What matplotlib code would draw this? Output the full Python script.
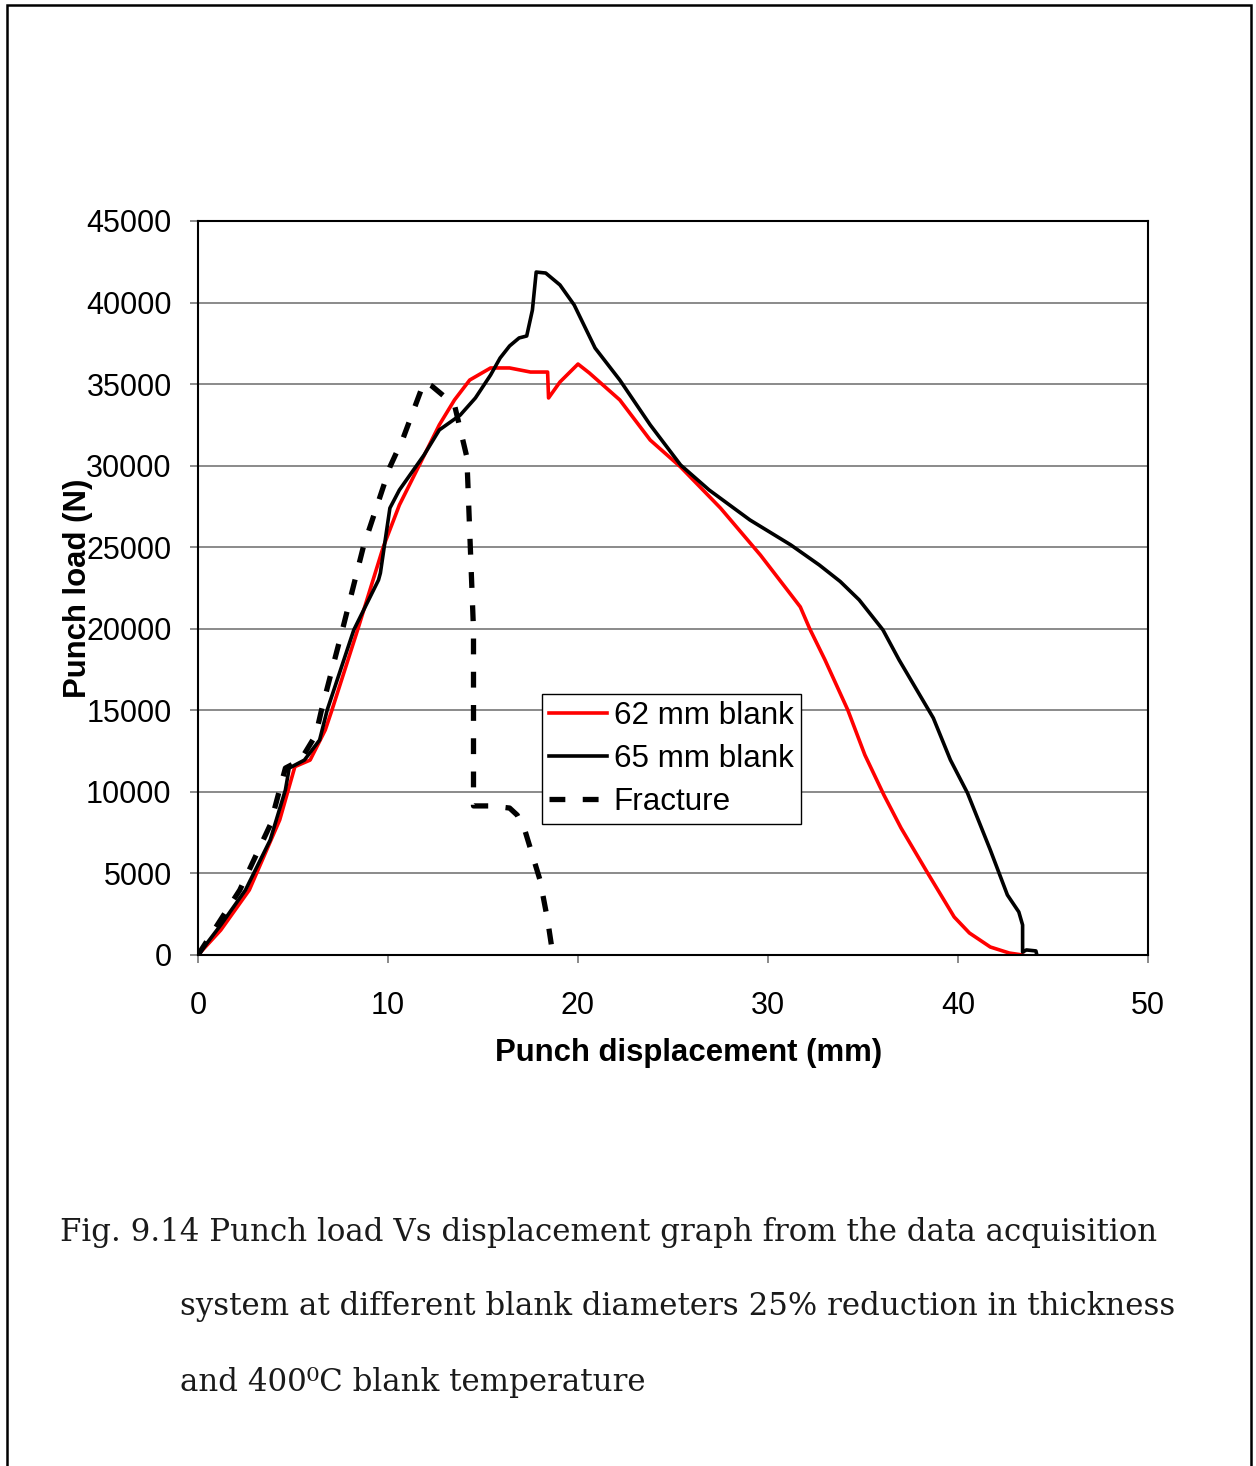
import matplotlib.pyplot as plt
from matplotlib.patches import Rectangle

# Punch load vs displacement
x_62 = [0, 1.2, 2.7, 4.3, 5.1, 5.9, 6.7, 7.05, 8.4, 9.75, 10.6, 11.6, 12.7, 13.5,
        14.3, 15.4, 16.4, 17.5, 18.4, 18.45, 19.05, 20.0, 20.6, 22.2, 23.8, 25.4,
        27.5, 29.6, 31.2, 31.7, 32.2, 33.0, 34.2, 35.1, 36.1, 37.0, 38.4, 39.8,
        40.6, 41.7, 42.7, 43.4]
y_62 = [0, 1530, 3985, 8280, 11550, 11950, 13800, 15020, 19930, 25010, 27590,
        29920, 32500, 34030, 35250, 35990, 35990, 35740, 35740, 34150, 35130,
        36230, 35680, 34030, 31570, 29920, 27400, 24520, 22100, 21340, 19990,
        18090, 15020, 12260, 9810, 7790, 5030, 2330, 1350, 490, 120, 0]

x_65 = [0, 1.2, 2.5, 3.8, 4.6, 4.8, 5.6, 6.4, 6.8, 8.2, 9.5, 9.6, 10.1, 10.6,
        11.9, 12.7, 13.8, 14.6, 15.4, 15.9, 16.4, 16.9, 17.3, 17.6, 17.8, 18.3,
        19.05, 19.8, 20.9, 22.2, 23.8, 25.4, 26.9, 29.05, 31.2, 32.7, 33.8, 34.8,
        36.05, 36.9, 38.7, 39.6, 40.5, 41.7, 42.6, 43.2, 43.4, 43.4, 43.4, 43.6,
        44.1, 44.15]
y_65 = [0, 1840, 3985, 7050, 10120, 11460, 11950, 13180, 15020, 19930, 22990,
        23420, 27400, 28510, 30660, 32190, 33100, 34150, 35560, 36600, 37340,
        37830, 37950, 39540, 41870, 41810, 41080, 39850, 37210, 35250, 32500,
        30040, 28510, 26670, 25140, 23910, 22900, 21770, 19930, 18090, 14530,
        11960, 9930, 6440, 3680, 2640, 1840, 610, 180, 310, 250, 0]

x_fr = [0, 2.2, 3.8, 4.6, 5.4, 6.2, 6.5, 7.6, 8.7, 10.1, 10.8, 11.9, 12.3, 13.5,
        14.15, 14.5, 14.5, 14.5, 15.4, 16.4, 16.8, 17.2, 18.0, 18.4, 18.6, 18.9,
        19.2]
y_fr = [0, 3985, 7970, 11460, 11950, 13490, 15020, 19930, 25010, 29920, 31700,
        35130, 34890, 33720, 30530, 19930, 9500, 9140, 9140, 9010, 8580, 7660,
        4600, 2150, 610, 180, 0]

series_labels = ["62 mm blank", "65 mm blank", "Fracture"]
caption_lines = [
    "Fig. 9.14 Punch load Vs displacement graph from the data acquisition",
    "system at different blank diameters 25% reduction in thickness",
    "and 400\u2070C blank temperature",
]

plt.rcParams["font.family"] = ["Liberation Sans", "DejaVu Sans"]

fig = plt.figure(figsize=(12.56, 14.66), dpi=100)
ax = fig.add_axes([198 / 1256, 1 - 955 / 1466, 950 / 1256, 734 / 1466])

# Gridlines
ax.set_axisbelow(True)
ax.grid(axis="y", color="#777777", linewidth=1.2)

ax.plot(x_62, y_62, color="#ff0000", linewidth=2.6, label=series_labels[0])
ax.plot(x_65, y_65, color="black", linewidth=2.6, label=series_labels[1])
ax.plot(x_fr, y_fr, color="black", linewidth=3.8, dashes=(3, 3.3),
        label=series_labels[2])

ax.set_xlim(0, 50)
ax.set_ylim(0, 45000)
ax.set_xticks(range(0, 51, 10))
ax.set_yticks(range(0, 45001, 5000))
ax.tick_params(axis="both", labelsize=22, length=6, width=1.2, color="#777777")
ax.tick_params(axis="x", pad=20)
ax.tick_params(axis="y", pad=13)
for spine in ax.spines.values():
    spine.set_linewidth(1.5)
    spine.set_color("black")

ax.set_xlabel("Punch displacement (mm)", fontsize=22.4, fontweight="bold")
ax.xaxis.set_label_coords(0.516, -83 / 734)
ax.set_ylabel("Punch load (N)", fontsize=22.4, fontweight="bold")
ax.yaxis.set_label_coords(-105 / 950, 0.5)

leg = ax.legend(loc="upper left", bbox_to_anchor=(0.362, 0.3556), fontsize=22.6,
                frameon=True, fancybox=False, framealpha=1, edgecolor="black",
                handlelength=1.85, handletextpad=0.22, labelspacing=0.42,
                borderpad=0.22, borderaxespad=0)
leg.get_frame().set_linewidth(1.0)

# Caption below the chart
for i, (x0, yc) in enumerate([(60, 1232), (180, 1307), (180, 1382)]):
    fig.text(x0 / 1256, 1 - yc / 1466, caption_lines[i], fontsize=22.2,
             family="DejaVu Serif", va="center", ha="left", color="#1a1a1a")

# Page border
fig.patches.append(Rectangle((7 / 1256, -0.02), 1244 / 1256, 1.02 - 5 / 1466,
                             transform=fig.transFigure, fill=False,
                             edgecolor="black", linewidth=1.8))

fig.savefig("out.png", dpi=100)
